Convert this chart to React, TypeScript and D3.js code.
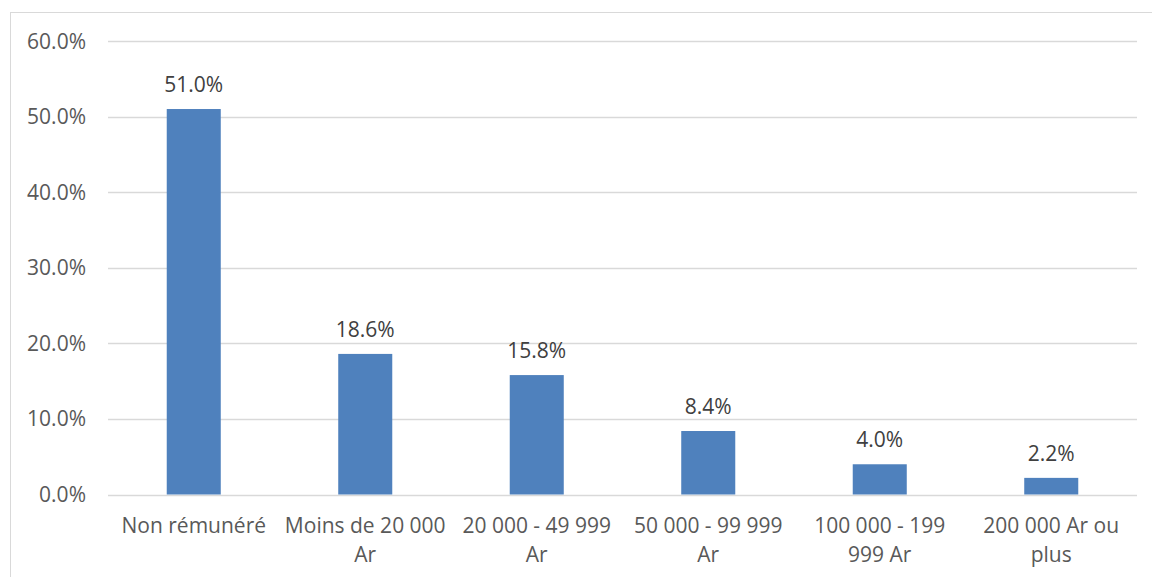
import React from "react";
import * as d3 from "d3";

const categories = [
  "Non rémunéré",
  "Moins de 20 000\nAr",
  "20 000 - 49 999\nAr",
  "50 000 - 99 999\nAr",
  "100 000 - 199\n999 Ar",
  "200 000 Ar ou\nplus",
];
const values = [51.0, 18.6, 15.8, 8.4, 4.0, 2.2];
const yTicks = [0, 10, 20, 30, 40, 50, 60];

const W = 1152;
const H = 577;
const left = 108;
const right = 1137;
const top = 41;
const bottom = 494.5;
const FONT = "'Open Sans', 'DejaVu Sans', sans-serif";
const FS = 21;

export default function App() {
  const x = d3
    .scaleBand<string>()
    .domain(categories)
    .range([left, right])
    .paddingInner(0.685)
    .paddingOuter(0.3425);
  const y = d3.scaleLinear().domain([0, 60]).range([bottom, top]);
  const fmt = (v: number) => d3.format(".1f")(v) + "%";

  return (
    <svg
      width={W}
      height={H}
      style={{ position: "absolute", left: 0, top: 0, background: "#fff" }}
      fontFamily={FONT}
    >
      <rect x={10.5} y={12.5} width={W + 20} height={H + 20} fill="#fff" stroke="#D9D9D9" />
      {yTicks.map((t) => (
        <g key={t}>
          <line
            x1={left}
            x2={right}
            y1={Math.round(y(t)) + 0.5}
            y2={Math.round(y(t)) + 0.5}
            stroke="#D9D9D9"
            strokeWidth={1.3}
          />
          <text
            x={86}
            y={y(t)}
            dy="0.36em"
            textAnchor="end"
            fontSize={FS}
            fill="#595959"
          >
            {fmt(t)}
          </text>
        </g>
      ))}
      {categories.map((c, i) => (
        <g key={c}>
          <rect
            x={x(c)}
            y={y(values[i])}
            width={x.bandwidth()}
            height={y(0) - y(values[i])}
            fill="#4F81BD"
          />
          <text
            x={(x(c) as number) + x.bandwidth() / 2}
            y={y(values[i]) - 17}
            textAnchor="middle"
            fontSize={FS}
            fill="#404040"
          >
            {fmt(values[i])}
          </text>
          {c.split("\n").map((line, j) => (
            <text
              key={j}
              x={(x(c) as number) + x.bandwidth() / 2}
              y={533 + j * 29}
              textAnchor="middle"
              fontSize={FS}
              fill="#595959"
            >
              {line}
            </text>
          ))}
        </g>
      ))}
    </svg>
  );
}
